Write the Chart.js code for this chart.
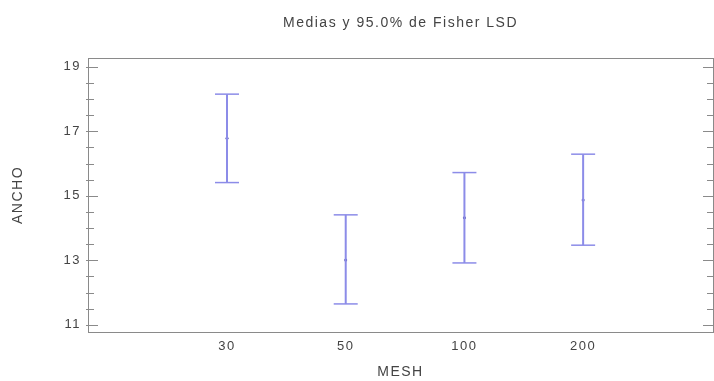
<!DOCTYPE html>
<html>
<head>
<meta charset="utf-8">
<script src="https://cdn.jsdelivr.net/npm/chart.js@4/dist/chart.umd.min.js"></script>
<style>
  html, body { margin: 0; padding: 0; background: #fff; overflow: hidden; }
  #wrap { position: relative; width: 714px; height: 381px; }
</style>
</head>
<body>
<div id="wrap"><canvas id="chart"></canvas></div>
<script>
// datos
var mesh = ['30', '50', '100', '200'];
var medias = [16.78, 13.01, 14.32, 14.87];
var limInf = [15.41, 11.65, 12.92, 13.47];
var limSup = [18.15, 14.41, 15.72, 16.29];
var yTicks = [11, 13, 15, 17, 19];

var lineColor = 'rgb(140, 140, 232)';
var dotColor = 'rgb(80, 80, 170)';
var textColor = '#444';
var fontFam = "'Liberation Sans', Arial, sans-serif";

// segmentos verticales (null corta la linea)
var segs = [];
var caps = [];
var means = [];
mesh.forEach(function(m, i) {
    segs.push({x: i + 1, y: limInf[i]}, {x: i + 1, y: limSup[i]}, {x: i + 1, y: null});
    caps.push({x: i + 1, y: limInf[i]}, {x: i + 1, y: limSup[i]});
    means.push({x: i + 1, y: medias[i]});
});

// espaciado de letras como en el original
var spacing = {
    id: 'spacing',
    beforeLayout: function(chart) { chart.ctx.letterSpacing = '1.5px'; },
    beforeDraw: function(chart) { chart.ctx.letterSpacing = '1.5px'; }
};

// marco y marcas hacia adentro
var frame = {
    id: 'frame',
    afterDraw: function(chart) {
        var ctx = chart.ctx, a = chart.chartArea, y = chart.scales.y;
        ctx.save();
        ctx.strokeStyle = '#8a8a8a';
        ctx.lineWidth = 1;
        ctx.strokeRect(Math.round(a.left) + 0.5, Math.round(a.top) + 0.5,
            Math.round(a.right - a.left), Math.round(a.bottom - a.top));
        ctx.beginPath();
        for (var v = 11; v <= 19.001; v += 0.5) {
            var py = Math.round(y.getPixelForValue(v)) + 0.5;
            var major = yTicks.indexOf(v) >= 0;
            var len = major ? 10 : 6;
            ctx.moveTo(a.left - 2, py);
            ctx.lineTo(a.left + len, py);
            ctx.moveTo(a.right + 2, py);
            ctx.lineTo(a.right - len, py);
        }
        ctx.stroke();
        ctx.restore();
    }
};

var ctx = document.getElementById('chart').getContext('2d');
var chart = new Chart(ctx, {
    type: 'scatter',
    data: {
        datasets: [{
            type: 'line',
            data: segs,
            xAxisID: 'x',
            yAxisID: 'y',
            borderColor: lineColor,
            borderWidth: 2,
            pointRadius: 0,
            spanGaps: false
        }, {
            data: caps,
            xAxisID: 'x',
            yAxisID: 'y',
            pointStyle: 'line',
            pointRadius: 12,
            borderColor: lineColor,
            borderWidth: 1.5
        }, {
            data: means,
            xAxisID: 'x',
            yAxisID: 'y',
            pointStyle: 'circle',
            pointRadius: 1.5,
            backgroundColor: dotColor,
            borderColor: dotColor,
            borderWidth: 0
        }]
    },
    options: {
        responsive: true,
        maintainAspectRatio: false,
        animation: false,
        layout: { autoPadding: false, padding: { left: 0, right: 1, top: 0, bottom: 0 } },
        plugins: {
            legend: { display: false },
            tooltip: { enabled: false }
        },
        scales: {
            x: {
                type: 'linear',
                position: 'bottom',
                min: -0.171,
                max: 5.094,
                grid: { display: false, drawTicks: false },
                border: { display: false },
                afterBuildTicks: function(s) {
                    s.ticks = mesh.map(function(m, i) { return {value: i + 1}; });
                },
                afterFit: function(s) { s.height = 49; },
                ticks: {
                    autoSkip: false,
                    maxRotation: 0,
                    padding: 7,
                    color: textColor,
                    font: { family: fontFam, size: 13 },
                    callback: function(v) { return mesh[v - 1]; }
                },
                title: {
                    display: true,
                    text: 'MESH',
                    color: textColor,
                    font: { family: fontFam, size: 14 },
                    padding: { top: 0, bottom: 0 }
                }
            },
            // eje superior solo para el titulo, centrado sobre el area del grafico
            top: {
                type: 'linear',
                position: 'top',
                min: 0,
                max: 1,
                grid: { display: false, drawTicks: false },
                border: { display: false },
                ticks: { display: false },
                afterFit: function(s) { s.height = 58; },
                title: {
                    display: true,
                    text: 'Medias y 95.0% de Fisher LSD',
                    color: textColor,
                    font: { family: fontFam, size: 14 },
                    padding: { top: 14.6, bottom: 0 }
                }
            },
            y: {
                min: 10.78,
                max: 19.27,
                grid: { display: false, drawTicks: false },
                border: { display: false },
                afterBuildTicks: function(s) {
                    s.ticks = yTicks.map(function(v) { return {value: v}; });
                },
                afterFit: function(s) { s.width = 88; },
                ticks: {
                    padding: 7,
                    color: textColor,
                    font: { family: fontFam, size: 13 }
                },
                title: {
                    display: true,
                    text: 'ANCHO',
                    color: textColor,
                    font: { family: fontFam, size: 14 },
                    padding: { top: 9.6, bottom: 0 }
                }
            }
        }
    },
    plugins: [spacing, frame]
});
</script>
</body>
</html>
